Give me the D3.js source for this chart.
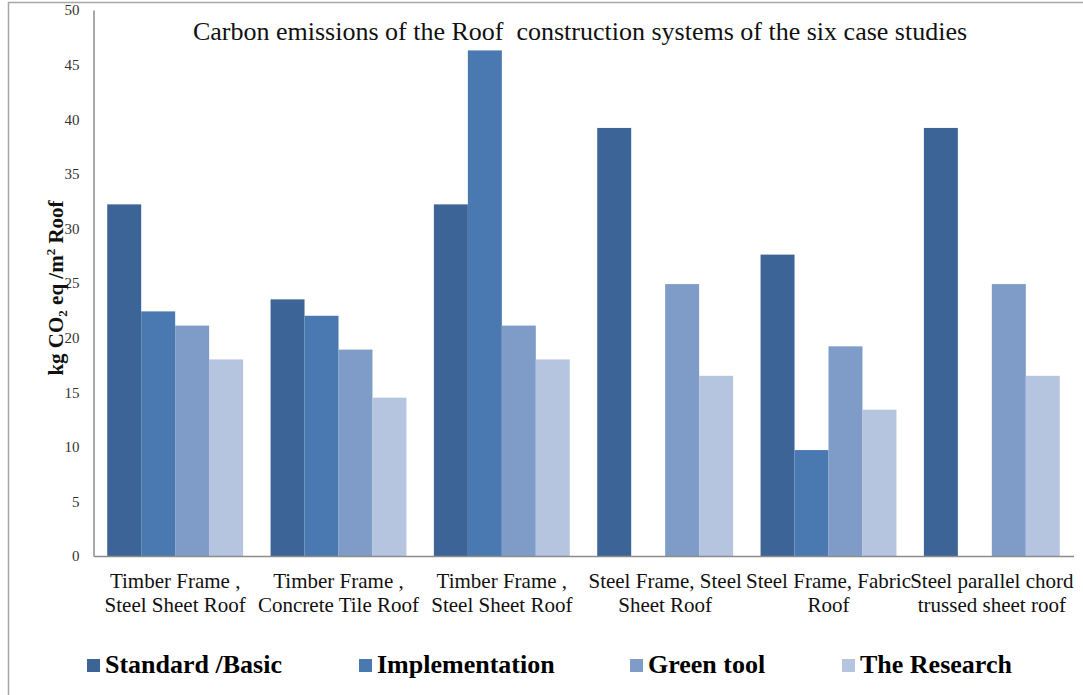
<!DOCTYPE html>
<html>
<head>
<meta charset="utf-8">
<script src="https://cdn.jsdelivr.net/npm/d3@7"></script>
<style>
body { margin: 0; background: #fff; }
svg text { font-family: "Liberation Serif", Tinos, "Times New Roman", serif; }
</style>
</head>
<body>
<svg id="svg" width="1083" height="695"></svg>
<script>
// categories, two lines each
var categories = [
    ["Timber Frame ,", "Steel Sheet Roof"],
    ["Timber Frame ,", "Concrete Tile Roof"],
    ["Timber Frame ,", "Steel Sheet Roof"],
    ["Steel Frame, Steel", "Sheet Roof"],
    ["Steel Frame, Fabric", "Roof"],
    ["Steel parallel chord", "trussed sheet roof"]
];
var seriesNames = ["Standard /Basic", "Implementation", "Green tool", "The Research"];
var seriesColors = ["#3d6496", "#4a79b2", "#7f9cc8", "#b5c4df"];

var standard = [32.2, 23.5, 32.2, 39.2, 27.6, 39.2];
var implementation = [22.4, 22.0, 46.3, 0, 9.7, 0];
var greenTool = [21.1, 18.9, 21.1, 24.9, 19.2, 24.9];
var research = [18.0, 14.5, 18.0, 16.5, 13.4, 16.5];

var yTicks = [0, 5, 10, 15, 20, 25, 30, 35, 40, 45, 50];

var series = [standard, implementation, greenTool, research];

var svg = d3.select("#svg");

// outer frame
svg.append("rect")
    .attr("x", 8.5).attr("y", 2.5)
    .attr("width", 1090).attr("height", 700)
    .attr("fill", "none")
    .attr("stroke", "#a6a6a6")
    .attr("stroke-width", 1.5);

var x0 = d3.scaleBand()
    .domain(d3.range(categories.length))
    .range([93.5, 1073.5])
    .paddingInner(0.168)
    .paddingOuter(0.084);

var x1 = d3.scaleBand()
    .domain(d3.range(series.length))
    .range([0, x0.bandwidth()]);

var y = d3.scaleLinear().domain([0, 50]).range([556, 10]);

// bars
var groups = svg.append("g").selectAll("g")
    .data(categories)
    .enter().append("g")
    .attr("transform", function(d, i) { return "translate(" + x0(i) + ",0)"; });

groups.selectAll("rect")
    .data(function(d, i) { return series.map(function(s, k) { return {k: k, v: s[i]}; }); })
    .enter().append("rect")
    .attr("x", function(d) { return x1(d.k); })
    .attr("width", x1.bandwidth())
    .attr("y", function(d) { return y(d.v); })
    .attr("height", function(d) { return y(0) - y(d.v); })
    .attr("fill", function(d) { return seriesColors[d.k]; });

// y axis
var yAxis = svg.append("g")
    .attr("transform", "translate(93.5,0)")
    .call(d3.axisLeft(y).tickValues(yTicks).tickSize(0).tickPadding(14));
yAxis.select(".domain").attr("stroke", "#8c8c8c").attr("stroke-width", 1.5);
yAxis.selectAll("text")
    .attr("font-size", "15px")
    .attr("fill", "#333");

// x axis baseline
var xAxis = svg.append("g")
    .attr("transform", "translate(0," + y(0) + ")")
    .call(d3.axisBottom(x0).tickSize(0).tickFormat(""));
xAxis.select(".domain").attr("stroke", "#8c8c8c").attr("stroke-width", 1.5);

// category labels
var catLabels = svg.append("g").selectAll("text")
    .data(categories)
    .enter().append("text")
    .attr("text-anchor", "middle")
    .attr("font-size", "21px")
    .attr("fill", "#111");
catLabels.append("tspan").attr("y", 588).attr("x", function(d, i) { return x0(i) + x0.bandwidth() / 2; })
    .text(function(d) { return d[0]; });
catLabels.append("tspan").attr("y", 612).attr("x", function(d, i) { return x0(i) + x0.bandwidth() / 2; })
    .text(function(d) { return d[1]; });

// title
svg.append("text")
    .attr("x", 580).attr("y", 40)
    .attr("text-anchor", "middle")
    .attr("font-size", "26px")
    .attr("fill", "#111")
    .style("white-space", "pre")
    .text("Carbon emissions of the Roof  construction systems of the six case studies");

// y axis title
var yt = svg.append("text")
    .attr("transform", "translate(63,288) rotate(-90)")
    .attr("text-anchor", "middle")
    .attr("font-size", "21px")
    .attr("font-weight", "bold")
    .attr("fill", "#111");
yt.append("tspan").text("kg CO");
yt.append("tspan").attr("font-size", "13px").attr("dy", 4).text("2");
yt.append("tspan").attr("dy", -4).text(" eq /m");
yt.append("tspan").attr("font-size", "13px").attr("dy", -8).text("2");
yt.append("tspan").attr("dy", 8).text(" Roof");

// legend
var legX = [87, 359, 630, 842];
var leg = svg.append("g").selectAll("g")
    .data(seriesNames)
    .enter().append("g")
    .attr("transform", function(d, i) { return "translate(" + legX[i] + ",665)"; });
leg.append("rect")
    .attr("x", 0).attr("y", -6)
    .attr("width", 13).attr("height", 13)
    .attr("fill", function(d, i) { return seriesColors[i]; });
leg.append("text")
    .attr("x", 18).attr("y", 8)
    .attr("font-size", "26px")
    .attr("font-weight", "bold")
    .attr("fill", "#000")
    .text(function(d) { return d; });
</script>
</body>
</html>
